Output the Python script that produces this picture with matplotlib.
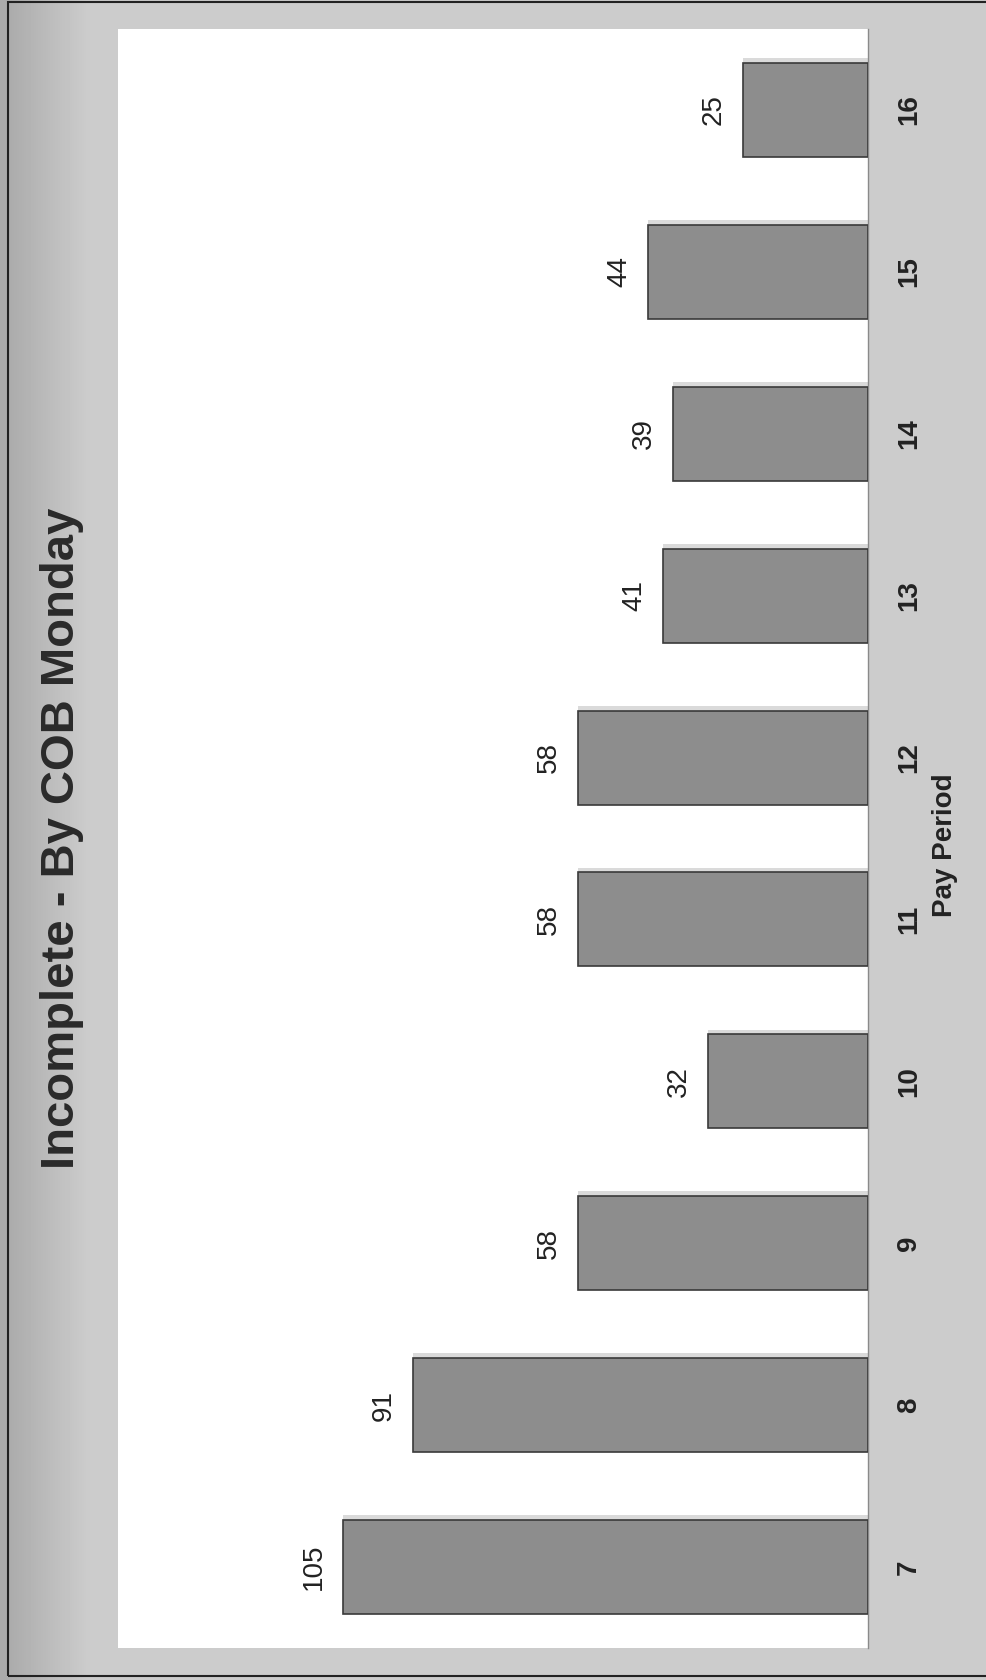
import numpy as np
import matplotlib.pyplot as plt
from matplotlib.patches import Rectangle

plt.rcParams['font.family'] = ['Liberation Sans', 'DejaVu Sans']

periods = ['7', '8', '9', '10', '11', '12', '13', '14', '15', '16']
incomplete = [105, 91, 58, 32, 58, 58, 41, 39, 44, 25]

W, H = 986, 1680
fig = plt.figure(figsize=(W / 100, H / 100), dpi=100)

# grey backdrop, darker towards the left edge
bg = fig.add_axes([0, 0, 1, 1])
xs = np.linspace(0, 1, W)
shade = np.clip(0.67 + (xs - 0.008) * 1.6, 0.67, 0.80)
bg.imshow(shade[None, :], cmap='gray', vmin=0, vmax=1, aspect='auto',
          extent=[0, 1, 0, 1])
bg.set_xlim(0, 1)
bg.set_ylim(0, 1)
bg.axis('off')
bg.add_patch(Rectangle((8 / W, 4 / H), 1.1, 1 - 6 / H, fill=False,
                       edgecolor='#222222', linewidth=1.5))

ax = fig.add_axes([118 / W, 32 / H, (868 - 118) / W, (1648 - 29) / H])
ax.set_facecolor('white')

y = np.arange(len(periods))
# soft shadow along the upper side of each bar
ax.barh(y + 0.03, incomplete, height=0.58, color='#dadada', linewidth=0,
        zorder=2)
ax.barh(y, incomplete, height=0.58, color='#8d8d8d', edgecolor='#3a3a3a',
        linewidth=1.2, zorder=3)

for yi, v in zip(y, incomplete):
    ax.text(v + 3.2, yi, str(v), rotation=90, ha='right', va='center',
            fontsize=20, color='#222222')

ax.set_xlim(150, 0)
ax.set_ylim(-0.5, len(periods) - 0.5)
ax.set_xticks([])
ax.yaxis.tick_right()
ax.set_yticks(y)
ax.set_yticklabels(periods, rotation=90, va='center', fontsize=20,
                   fontweight='bold', color='#222222')
ax.tick_params(axis='y', length=0, pad=20)
for s in ['left', 'top', 'bottom']:
    ax.spines[s].set_visible(False)
ax.spines['right'].set_color('#8a8a8a')
ax.spines['right'].set_linewidth(1)

fig.text(945 / W, 1 - 845 / H, 'Pay Period', rotation=90, ha='center',
         va='center', fontsize=20, fontweight='bold', color='#222222')
fig.text(62 / W, 1 - 838 / H, 'Incomplete - By COB Monday', rotation=90,
         ha='center', va='center', fontsize=34, fontweight='bold',
         color='#2a2a2a')

fig.savefig('out.png', dpi=100)
